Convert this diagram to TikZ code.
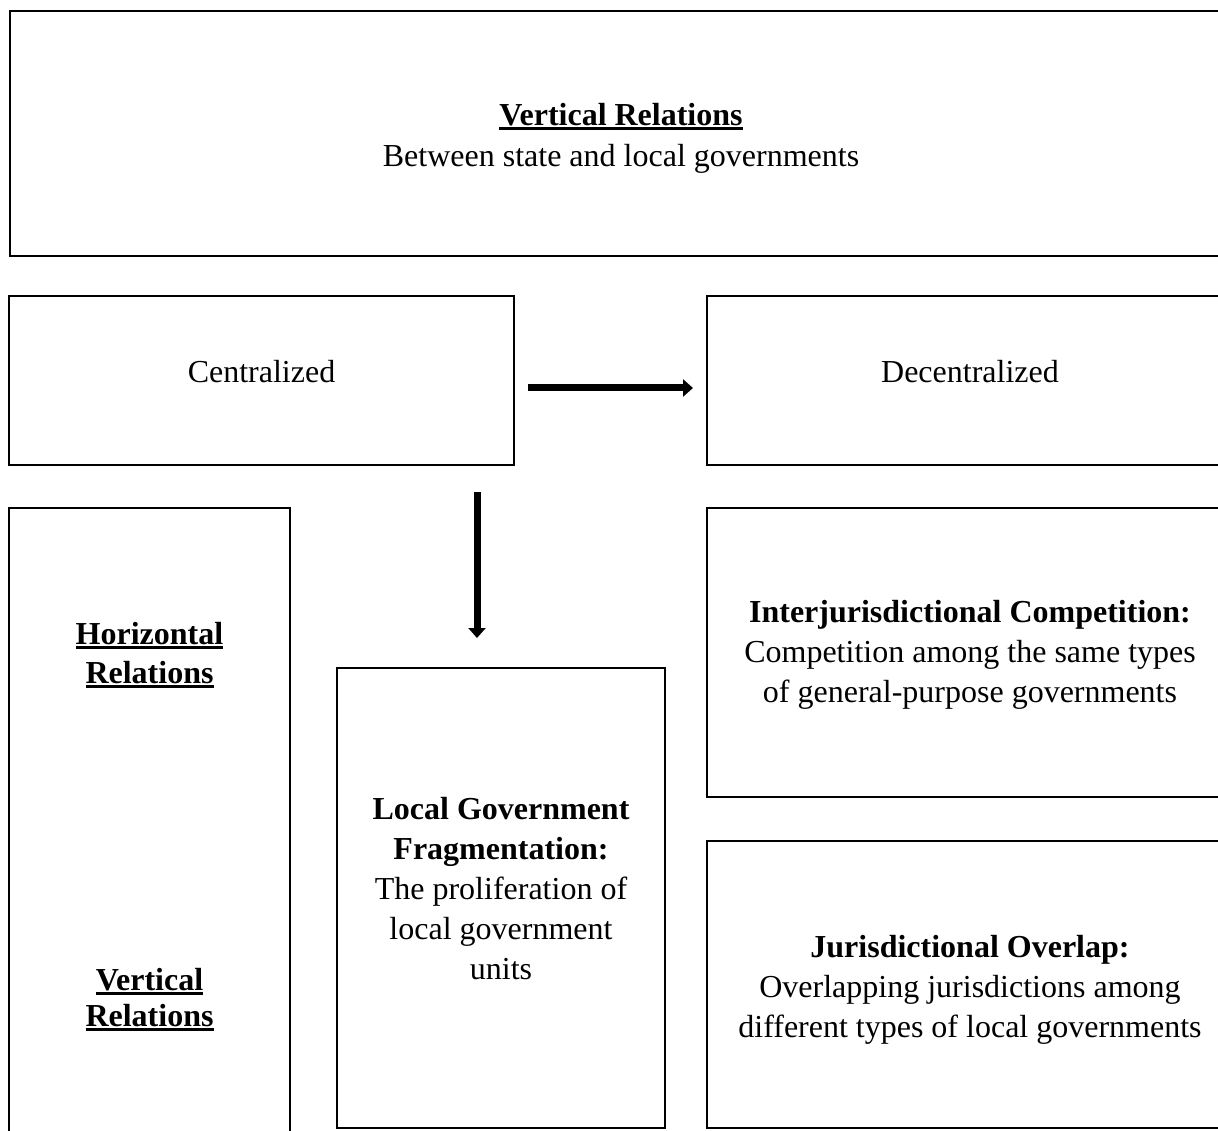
\documentclass[tikz,border=0pt]{standalone}
\usepackage{fontspec}
\setmainfont{Liberation Serif}
\usetikzlibrary{arrows.meta}
\newcommand\myul[1]{\setbox0\hbox{#1}\rlap{\rule[-4.5pt]{\wd0}{2.6pt}}\box0}
\begin{document}
\begin{tikzpicture}[x=1pt,y=-1pt,
  box/.style={draw, line width=2.5pt, inner sep=0pt, outer sep=0pt},
  txt/.style={font=\fontsize{32}{40}\selectfont, align=center, inner sep=0pt},
  arr/.style={line width=7pt, -{Triangle[length=10pt,width=17pt]}}]
\useasboundingbox (0,0) rectangle (1218,1131);
\clip (0,0) rectangle (1218,1131);
% boxes
\node[box, minimum width=1222pt, minimum height=245pt] (top) at (621,133.5) {};
\node[box, minimum width=505pt, minimum height=169pt] (cent) at (261.5,380.5) {};
\node[box, minimum width=526pt, minimum height=169pt] (dec) at (970,380.5) {};
\node[box, minimum width=281pt, minimum height=652pt] (left) at (149.5,834) {};
\node[box, minimum width=328pt, minimum height=460pt] (mid) at (501,898) {};
\node[box, minimum width=526pt, minimum height=289pt] (inter) at (970,652.5) {};
\node[box, minimum width=526pt, minimum height=287pt] (jur) at (970,984.5) {};
% texts
\node[txt, font=\fontsize{32}{41}\selectfont] (topt) at (621,138) {\textbf{\myul{Vertical Relations}}\\Between state and local governments};
\node[txt] (centt) at (261.5,372) {Centralized};
\node[txt] (dect) at (970,372) {Decentralized};
\node[txt, font=\fontsize{32}{39}\selectfont] (hor) at (149.5,655) {\textbf{\myul{Horizontal}}\\\textbf{\myul{Relations}}};
\node[txt, font=\fontsize{32}{36}\selectfont] (ver) at (149.5,999.5) {\textbf{\myul{Vertical}}\\\textbf{\myul{Relations}}};
\node[txt] (midt) at (501,889) {\textbf{Local Government}\\\textbf{Fragmentation:}\\The proliferation of\\local government\\units};
\node[txt] (intert) at (970,655) {\textbf{Interjurisdictional Competition:}\\Competition among the same types\\of general-purpose governments};
\node[txt] (jurt) at (970,989.5) {\textbf{Jurisdictional Overlap:}\\Overlapping jurisdictions among\\different types of local governments};
% arrows
\draw[arr, shorten <=14pt, shorten >=14pt] ([yshift=-7.5pt]cent.east) -- ([yshift=-7.5pt]dec.west);
\draw[arr, shorten <=27pt, shorten >=30pt] ([xshift=-37pt]cent.south east) -- ([xshift=140pt]mid.north west);
\end{tikzpicture}
\end{document}
